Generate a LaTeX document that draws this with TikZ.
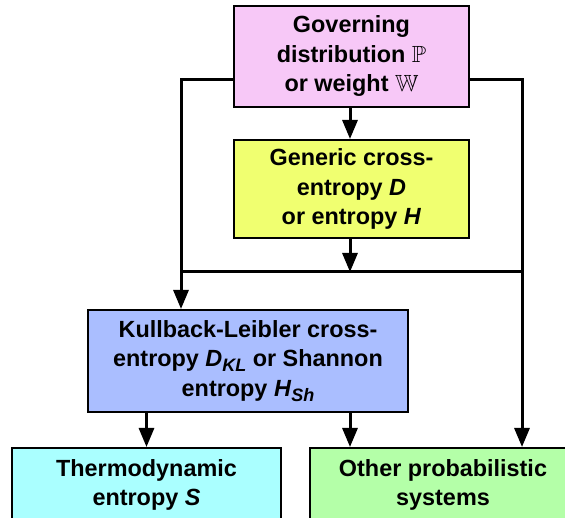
\documentclass[tikz,border=0pt]{standalone}
\usepackage{fontspec}
\usepackage{amssymb}
\setmainfont{Liberation Sans}
\usetikzlibrary{arrows.meta}
\definecolor{cpink}{HTML}{F7C8F7}
\definecolor{cyellow}{HTML}{F0FF70}
\definecolor{cblue}{HTML}{AABEFF}
\definecolor{ccyan}{HTML}{AAFFFF}
\definecolor{cgreen}{HTML}{B4FFA8}
\newcommand{\lowsub}[1]{\raisebox{-5pt}{\fontsize{18}{18}\selectfont\textit{#1}}}
\tikzset{
  box/.style={draw=black, line width=2pt, rectangle, align=center, inner sep=0pt,
    font=\fontsize{23.4}{29.5}\selectfont\bfseries},
  conn/.style={line width=3pt, line cap=rect, -{Triangle[length=19pt,width=15pt]}},
  plain/.style={line width=3pt, line cap=rect}
}
\begin{document}
\begin{tikzpicture}[x=1pt,y=-1pt]
\useasboundingbox (0,0) rectangle (565,518);
\clip (0,0) rectangle (565,518);
\node[box, fill=cpink, minimum width=235pt, minimum height=101pt] (gov) at (351.5,56.5)
  {Governing\\distribution $\mathbb{P}$\\or weight $\mathbb{W}$};
\node[box, fill=cyellow, minimum width=235pt, minimum height=98pt] (gen) at (351.5,189)
  {Generic cross-\\entropy \textit{D}\\or entropy \textit{H}};
\node[box, fill=cblue, minimum width=320pt, minimum height=102pt] (kl) at (248,361)
  {Kullback-Leibler cross-\\entropy \textit{D}\lowsub{KL} or Shannon\\entropy \textit{H}\lowsub{Sh}};
\node[box, fill=ccyan, minimum width=269pt, minimum height=74pt] (th) at (146.5,485)
  {Thermodynamic\\entropy \textit{S}};
\node[box, fill=cgreen, minimum width=266pt, minimum height=74pt] (ot) at (443,485)
  {Other probabilistic\\systems};
\coordinate (gl) at (181,80);
\coordinate (gr) at (522,80);
\coordinate (hl) at (181,272);
\coordinate (hr) at (522,272);
\coordinate (hm) at (350,272);
\draw[plain] (gov.west |- gl) -- (gl);
\draw[plain] (gov.east |- gr) -- (gr);
\draw[conn] (gl) -- (kl.north -| gl);
\draw[conn] (gr) -- (ot.north -| gr);
\draw[plain] (hl) -- (hr);
\draw[conn] (gov.south -| hm) -- (gen.north -| hm);
\draw[conn] (gen.south -| hm) -- (hm);
\draw[conn] (kl.south -| th) -- (th.north);
\draw[conn] (kl.south -| hm) -- (ot.north -| hm);
\end{tikzpicture}
\end{document}
